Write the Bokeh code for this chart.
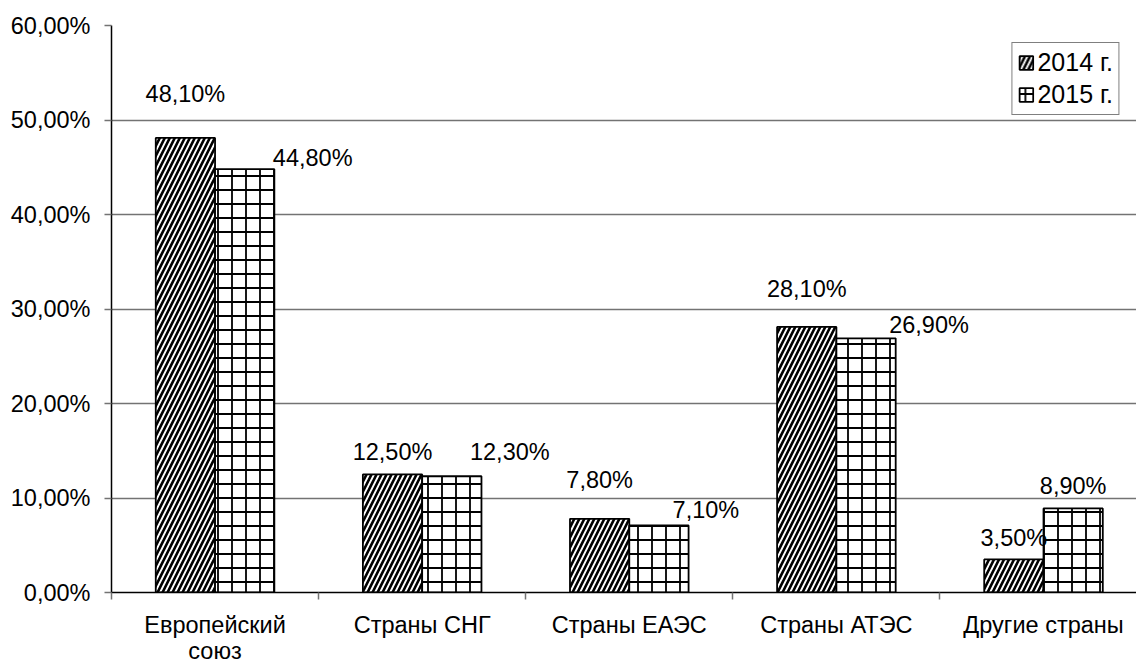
from bokeh.plotting import figure
from bokeh.models import (ColumnDataSource, FixedTicker, Range1d, Legend, LegendItem)
from bokeh.embed import file_html
from bokeh.resources import INLINE

categories = ["Европейский\nсоюз", "Страны СНГ", "Страны ЕАЭС", "Страны АТЭС", "Другие страны"]
v2014 = [48.1, 12.5, 7.8, 28.1, 3.5]
v2015 = [44.8, 12.3, 7.1, 26.9, 8.9]
y_ticks = [0, 10, 20, 30, 40, 50, 60]
y_tick_labels = ["0,00%", "10,00%", "20,00%", "30,00%", "40,00%", "50,00%", "60,00%"]

def fmt(v):
    return f"{v:.2f}".replace(".", ",") + "%"

# layout constants (pixel offsets of data labels, bar width, visible x extent)
BW = 0.2863
X_END = 4.949
lab14_dx = [0, 0, 0, 0, 0]
lab14_dy = [-44, -22, -39, -38, -21]
lab15_dx = [68, 58, 47, 63, 0]
lab15_dy = [-11, -24, -15, -13, -22]

FONT = "Liberation Sans"
FS = "23.5px"

n = len(categories)
x14 = [i + 0.5 - BW / 2 for i in range(n)]
x15 = [i + 0.5 + BW / 2 for i in range(n)]

s14 = ColumnDataSource(dict(x=x14, top=v2014, label=[fmt(v) for v in v2014], dx=lab14_dx, dy=lab14_dy))
s15 = ColumnDataSource(dict(x=x15, top=v2015, label=[fmt(v) for v in v2015], dx=lab15_dx, dy=lab15_dy))

p = figure(width=1136, height=666, output_backend="svg", toolbar_location=None,
           x_range=Range1d(0, X_END), y_range=Range1d(0, 60),
           min_border_left=111, min_border_right=0, min_border_top=25, min_border_bottom=72)
p.outline_line_color = None
p.background_fill_color = "white"

r14 = p.vbar(x="x", top="top", width=BW, source=s14, fill_color="white", line_color="black",
             line_width=1.8, hatch_pattern="/", hatch_color="black", hatch_weight=2.6, hatch_scale=10)
r15 = p.vbar(x="x", top="top", width=BW, source=s15, fill_color="white", line_color="black",
             line_width=1.8, hatch_pattern="+", hatch_color="black", hatch_weight=1.8, hatch_scale=14)

for src in (s14, s15):
    p.text(x="x", y="top", text="label", x_offset="dx", y_offset="dy", source=src,
           text_align="center", text_baseline="middle", text_font_size=FS,
           text_font={"value": FONT}, text_color="black")

# y axis
p.yaxis.ticker = FixedTicker(ticks=y_ticks, minor_ticks=[])
p.yaxis.major_label_overrides = {t: l for t, l in zip(y_ticks, y_tick_labels)}
p.yaxis.major_label_text_font = FONT
p.yaxis.major_label_text_font_size = FS
p.yaxis.major_label_text_color = "black"
p.yaxis.axis_line_color = "black"
p.yaxis.axis_line_width = 1.5
p.yaxis.major_tick_out = 7
p.yaxis.major_tick_in = 0
p.yaxis.major_tick_line_color = "#737373"
p.yaxis.major_tick_line_width = 1.5
p.yaxis.major_label_standoff = 14

# x axis
centers = [i + 0.5 for i in range(n)]
p.xaxis.ticker = FixedTicker(ticks=centers, minor_ticks=list(range(n + 1)))
p.xaxis.major_label_overrides = {c: l for c, l in zip(centers, categories)}
p.xaxis.major_label_text_font = FONT
p.xaxis.major_label_text_font_size = FS
p.xaxis.major_label_text_color = "black"
p.xaxis.major_label_text_line_height = 1.0
p.xaxis.axis_line_color = "black"
p.xaxis.axis_line_width = 1.5
p.xaxis.major_tick_out = 0
p.xaxis.major_tick_in = 0
p.xaxis.minor_tick_out = 7
p.xaxis.minor_tick_in = 0
p.xaxis.minor_tick_line_color = "#737373"
p.xaxis.minor_tick_line_width = 1.5
p.xaxis.major_label_standoff = 12

p.xgrid.grid_line_color = None
p.ygrid.grid_line_color = "#737373"
p.ygrid.grid_line_width = 1.5

legend = Legend(items=[LegendItem(label="2014 г.", renderers=[r14]),
                       LegendItem(label="2015 г.", renderers=[r15])],
                location="top_right", orientation="vertical")
legend.border_line_color = "black"
legend.border_line_width = 1.2
legend.background_fill_color = "white"
legend.background_fill_alpha = 1
legend.label_text_font = FONT
legend.label_text_font_size = "25px"
legend.label_text_color = "black"
legend.label_height = 24
legend.glyph_width = 17
legend.glyph_height = 17
legend.label_standoff = 3
legend.padding = 5
legend.spacing = 3
legend.margin = 17
p.add_layout(legend, "center")

open("out.html", "w").write(file_html(p, INLINE))
